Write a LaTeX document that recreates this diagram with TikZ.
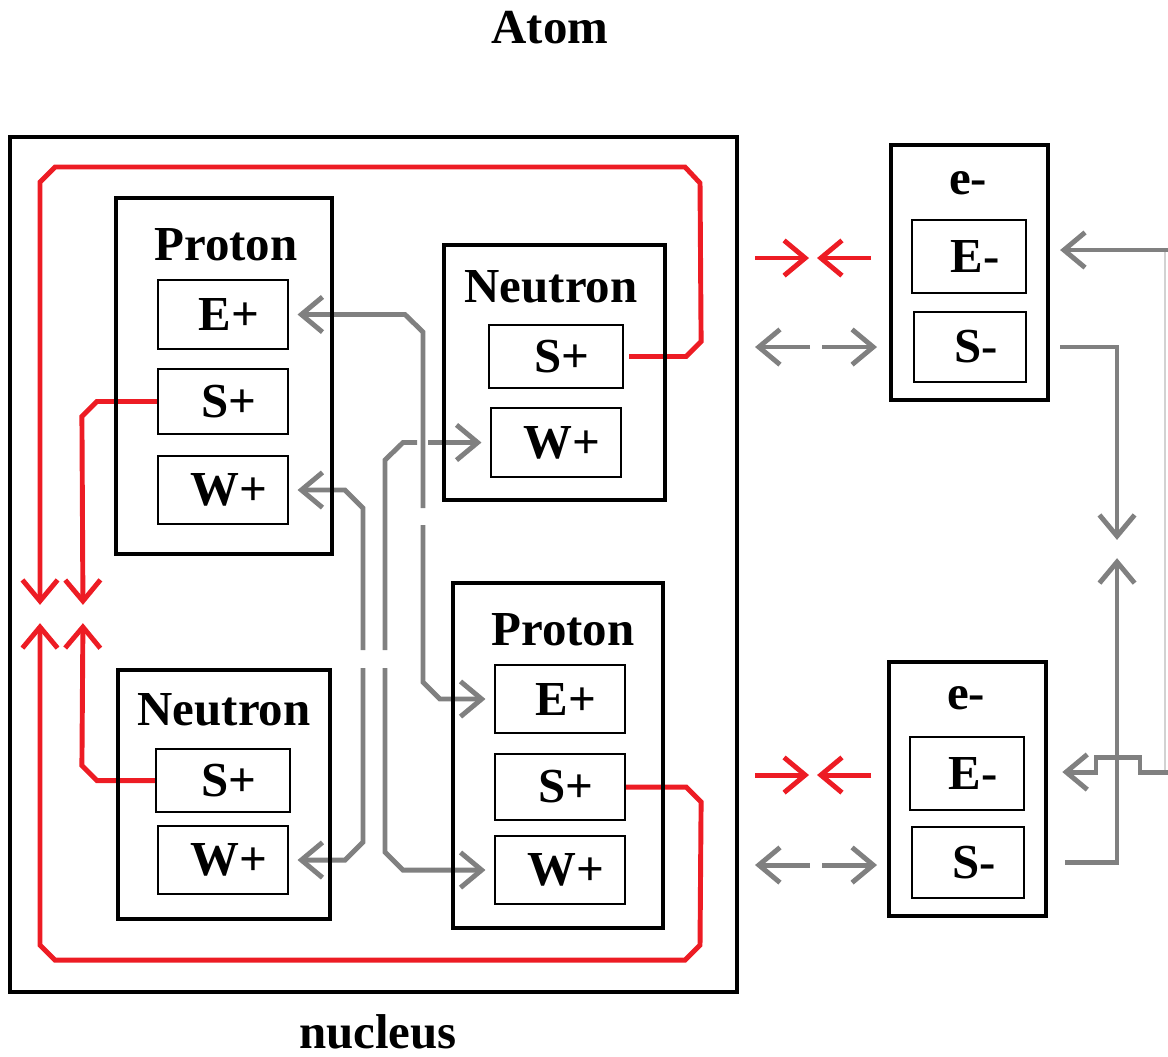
\documentclass[tikz,border=0pt]{standalone}
\usepackage{fontspec}
\setmainfont{Liberation Serif}
\usetikzlibrary{positioning,arrows.meta,calc,backgrounds}

\definecolor{linkred}{HTML}{ED1C24}
\definecolor{linkgray}{HTML}{808080}

\begin{document}
\begin{tikzpicture}[x=0.01cm, y=-0.01cm, font=\fontsize{13.9}{16}\selectfont\bfseries,
  >={Straight Barb[length=6pt,width=10pt]},
  particle/.style={draw, line width=1.25pt, inner sep=0pt},
  charge/.style={draw, line width=0.6pt, inner sep=0pt, minimum width=1.3cm,
    execute at begin node=\hspace{3.4pt}},
  redlink/.style={draw=linkred, line width=1.4pt},
  graylink/.style={draw=linkgray, line width=1.4pt}]
\useasboundingbox (0,0) rectangle (1168,1056);

% captions
\node (atom) at (550,28) {Atom};
\node (nuclabel) at (378,1032) {nucleus};

% nucleus with its four particles
\node[particle, minimum width=7.27cm, minimum height=8.55cm] (nuc) at (373.5,564.5) {};

\node[particle, minimum width=2.16cm, minimum height=3.56cm] (p1) at (224,376) {};
\node (p1name) at (226,245) {Proton};
\node[charge, minimum height=0.69cm] (p1E) at (223,314.5) {E+};
\node[charge, minimum height=0.65cm] (p1S) at (223,401.5) {S+};
\node[charge, minimum height=0.68cm] (p1W) at (223,490) {W+};

\node[particle, minimum width=2.21cm, minimum height=2.55cm] (n1) at (554.5,372.5) {};
\node (n1name) at (551,287) {Neutron};
\node[charge, minimum width=1.34cm, minimum height=0.63cm] (n1S) at (556,356.5) {S+};
\node[charge, minimum height=0.69cm] (n1W) at (556,442.5) {W+};

\node[particle, minimum width=2.10cm, minimum height=3.45cm] (p2) at (558,755.5) {};
\node (p2name) at (563,630) {Proton};
\node[charge, minimum height=0.68cm] (p2E) at (560,699) {E+};
\node[charge, minimum height=0.66cm] (p2S) at (560,787) {S+};
\node[charge, minimum height=0.68cm] (p2W) at (560,870) {W+};

\node[particle, minimum width=2.12cm, minimum height=2.49cm] (n2) at (224,794.5) {};
\node (n2name) at (224,710) {Neutron};
\node[charge, minimum width=1.34cm, minimum height=0.63cm] (n2S) at (223,780.5) {S+};
\node[charge, minimum height=0.68cm] (n2W) at (223,860) {W+};

% electrons
\node[particle, minimum width=1.57cm, minimum height=2.55cm] (e1) at (969.5,272.5) {};
\node (e1name) at (968,183) {e-};
\node[charge, minimum width=1.14cm, minimum height=0.73cm] (e1E) at (969,256.5) {E-};
\node[charge, minimum width=1.12cm, minimum height=0.70cm] (e1S) at (970,347) {S-};

\node[particle, minimum width=1.57cm, minimum height=2.54cm] (e2) at (967.5,789) {};
\node (e2name) at (966,698) {e-};
\node[charge, minimum width=1.14cm, minimum height=0.73cm] (e2E) at (967,773.5) {E-};
\node[charge, minimum width=1.12cm, minimum height=0.71cm] (e2S) at (968,862.5) {S-};

\coordinate (meetL) at (40,614);
\coordinate (meetR) at (83,614);
\coordinate (meetS) at (1117,549);
\coordinate (edgeT) at (1168,250);
\coordinate (edgeB) at (1168,772);

\begin{scope}[on background layer]
% strong links (red)
\draw[redlink, ->, shorten <=1.4pt, shorten >=2.6pt] (n1S.east) -- ++(62,0) -- ++(15,-15) -- (700,183) -- (685,167) -- (55,167) -- (40,182) -- (meetL);
\draw[redlink, ->, shorten >=2.6pt] (p2S.east) -- ++(60,0) -- ++(15,15) -- (700,945) -- (685,960) -- (55,960) -- (40,945) -- (meetL);
\draw[redlink, ->, shorten >=2.6pt] (p1S.west) -- ++(-60,0) -- ++(-15,15) -- (meetR);
\draw[redlink, ->, shorten >=2.6pt] (n2S.west) -- ++(-58,0) -- ++(-15,-15) -- (meetR);
\foreach \y in {258,775} {
  \draw[redlink, ->] (755,\y) -- (809,\y);
  \draw[redlink, ->] (871,\y) -- (817,\y);
}

% grey links, broken where they pass
\draw[graylink, <-, shorten <=2.4pt] (p1E.east) -- (405,314.5) -- (423,332) -- (423,508);
\draw[graylink, ->, shorten >=2.4pt] (423,525) -- (423,682) -- (440,699) -- (p2E.west);
\draw[graylink, <-, shorten <=2.4pt] (n1W.west) -- (428,442.5);
\draw[graylink] (417,442.5) -- (403,442.5) -- (385,460) -- (385,650);
\draw[graylink, ->, shorten >=2.4pt] (385,668) -- (385,852) -- (403,870) -- (p2W.west);
\draw[graylink, <-, shorten <=2.4pt] (p1W.east) -- (345,490) -- (363,508) -- (363,650);
\draw[graylink, ->, shorten >=2.4pt] (363,668) -- (363,842) -- (345,860) -- (n2W.east);
\foreach \y in {347,865} {
  \draw[graylink, ->] (810,\y) -- (755,\y);
  \draw[graylink, ->] (822,\y) -- (877,\y);
}

% outside the atom
\draw[gray!35, line width=0.4pt] (1165,250) -- (1165,772);
\draw[graylink, ->, shorten >=2.8pt] (edgeT) -- (e1.east |- edgeT);
\draw[graylink, ->, shorten <=2.8pt, shorten >=2.6pt] (e1.east |- e1S.east) -| (meetS);
\draw[graylink, ->, shorten <=4.8pt, shorten >=2.6pt] (e2.east |- e2S.east) -| (meetS);
\draw[graylink, ->, shorten >=4pt] (edgeB) -- (1140,772) -- (1140,757) -- (1096,757) -- (1096,772) -- (e2.east |- edgeB);
\end{scope}
\end{tikzpicture}
\end{document}
